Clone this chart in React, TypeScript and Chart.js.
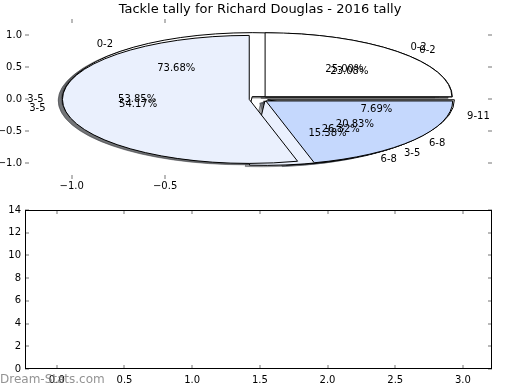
import React, { useEffect, useRef } from "react";
import { Chart, registerables } from "chart.js";

Chart.register(...registerables);

const chartTitle = "Tackle tally for Richard Douglas - 2016 tally";

// Pies (tackle counts per bucket), in draw order
const pie1Labels = ["0-2", "3-5", "6-8", "9-11"];
const pie1Counts = [3, 7, 2, 1];
const pie2Labels = ["0-2", "3-5"];
const pie2Counts = [14, 5];
const pie3Labels = ["0-2", "3-5", "6-8"];
const pie3Counts = [6, 13, 5];

const wedgeColors = ["#ffffff", "#eaf0fd", "#c5d8fd"];

const pieXTicks = [-1.0, -0.5];
const pieYTicks = [1.0, 0.5, 0.0, -0.5, -1.0];
const lowerXTicks = [0.0, 0.5, 1.0, 1.5, 2.0, 2.5, 3.0];
const lowerYTicks = [0, 2, 4, 6, 8, 10, 12, 14];

const watermark = "Dream-Stats.com";

const FONT = '"DejaVu Sans", "Liberation Sans", sans-serif';
const EXPLODE = 0.05;
const SHADOW_OFF = -0.0222;

const fmtDec = (v: number) => (v < 0 ? "\u2212" : "") + Math.abs(v).toFixed(1);

function hexToRgb(h: string) {
  const n = parseInt(h.slice(1), 16);
  return [(n >> 16) & 255, (n >> 8) & 255, n & 255];
}

const piePlugin = {
  id: "ellipsePies",
  afterDatasetsDraw(chart: any) {
    const { ctx, scales } = chart;
    const xs = scales.x;
    const ys = scales.y;
    const rx = Math.abs(xs.getPixelForValue(1) - xs.getPixelForValue(0));
    const ry = Math.abs(ys.getPixelForValue(0) - ys.getPixelForValue(1));
    const pies = [
      { labels: pie1Labels, counts: pie1Counts },
      { labels: pie2Labels, counts: pie2Counts },
      { labels: pie3Labels, counts: pie3Counts },
    ];
    const wedges: any[] = [];
    const texts: any[] = [];
    for (const p of pies) {
      const total = p.counts.reduce((a, b) => a + b, 0);
      let acc = 0;
      p.counts.forEach((c, i) => {
        const t1 = (acc / total) * Math.PI * 2;
        acc += c;
        const t2 = (acc / total) * Math.PI * 2;
        const tm = (t1 + t2) / 2;
        const cx = EXPLODE * Math.cos(tm);
        const cy = EXPLODE * Math.sin(tm);
        wedges.push({ cx, cy, t1, t2, color: wedgeColors[i % wedgeColors.length] });
        const lx = cx + 1.1 * Math.cos(tm);
        const ly = cy + 1.1 * Math.sin(tm);
        texts.push({ x: lx, y: ly, s: p.labels[i], align: lx > 0 ? "left" : "right" });
        const px = cx + 0.6 * Math.cos(tm);
        const py = cy + 0.6 * Math.sin(tm);
        texts.push({ x: px, y: py, s: ((c / total) * 100).toFixed(2) + "%", align: "center" });
      });
    }
    const path = (w: any, ox: number, oy: number) => {
      const X = xs.getPixelForValue(w.cx + ox);
      const Y = ys.getPixelForValue(w.cy + oy);
      ctx.beginPath();
      ctx.moveTo(X, Y);
      ctx.ellipse(X, Y, rx, ry, 0, -w.t1, -w.t2, true);
      ctx.closePath();
    };
    ctx.save();
    ctx.lineJoin = "miter";
    for (const w of wedges) {
      const [r, g, b] = hexToRgb(w.color);
      const col = `rgba(${Math.round(r * 0.3)},${Math.round(g * 0.3)},${Math.round(b * 0.3)},0.5)`;
      path(w, SHADOW_OFF, SHADOW_OFF);
      ctx.fillStyle = col;
      ctx.fill();
      ctx.strokeStyle = col;
      ctx.lineWidth = 1;
      ctx.stroke();
    }
    for (const w of wedges) {
      path(w, 0, 0);
      ctx.fillStyle = w.color;
      ctx.fill();
      ctx.strokeStyle = "#000000";
      ctx.lineWidth = 1;
      ctx.stroke();
    }
    ctx.fillStyle = "#000000";
    ctx.font = `10px ${FONT}`;
    ctx.textBaseline = "middle";
    for (const t of texts) {
      ctx.textAlign = t.align;
      ctx.fillText(t.s, xs.getPixelForValue(t.x), ys.getPixelForValue(t.y));
    }
    ctx.restore();
  },
};

const makeTickPlugin = (frame: boolean) => ({
  id: "inwardTicks",
  afterDraw(chart: any) {
    const { ctx, chartArea: a, scales } = chart;
    const xs = scales.x;
    const ys = scales.y;
    ctx.save();
    ctx.fillStyle = "#b9b9b9";
    for (const t of xs.ticks) {
      const px = Math.round(xs.getPixelForValue(t.value));
      ctx.fillRect(px - 1, a.bottom - 4, 2, 4);
      ctx.fillRect(px - 1, a.top, 2, 4);
    }
    for (const t of ys.ticks) {
      const py = Math.round(ys.getPixelForValue(t.value));
      ctx.fillRect(a.left, py - 1, 4, 2);
      ctx.fillRect(a.right - 4, py - 1, 4, 2);
    }
    if (frame) {
      ctx.strokeStyle = "#000000";
      ctx.lineWidth = 1;
      ctx.strokeRect(a.left + 0.5, a.top + 0.5, a.right - a.left - 1, a.bottom - a.top - 1);
    }
    ctx.restore();
  },
});

const watermarkPlugin = {
  id: "watermark",
  afterDraw(chart: any) {
    const { ctx } = chart;
    ctx.save();
    ctx.font = `12px ${FONT}`;
    ctx.fillStyle = "rgba(120,120,120,0.8)";
    ctx.textAlign = "left";
    ctx.textBaseline = "middle";
    ctx.fillText(watermark, 0, 180);
    ctx.restore();
  },
};

export default function App() {
  const topRef = useRef<HTMLCanvasElement>(null);
  const botRef = useRef<HTMLCanvasElement>(null);

  useEffect(() => {
    Chart.defaults.font.family = FONT;
    Chart.defaults.color = "#000000";
    const tickFont = { size: 10, family: FONT };

    const top = new Chart(topRef.current!, {
      type: "scatter",
      data: { datasets: [] },
      options: {
        animation: false,
        responsive: false,
        layout: { padding: 0 },
        plugins: {
          legend: { display: false },
          tooltip: { enabled: false },
          title: {
            display: true,
            text: chartTitle,
            color: "#000000",
            font: { size: 13, family: FONT, weight: "normal" },
            padding: { top: 2, bottom: 1.4 },
          },
        },
        scales: {
          x: {
            type: "linear",
            position: "bottom",
            min: -1.25,
            max: 1.25,
            grid: { display: false, drawTicks: false },
            border: { display: false },
            afterBuildTicks: (s: any) => {
              s.ticks = pieXTicks.map((v) => ({ value: v }));
            },
            afterFit: (s: any) => {
              s.height = 21;
            },
            ticks: { font: tickFont, padding: 1, maxRotation: 0, callback: (v: any) => fmtDec(Number(v)) },
          },
          y: {
            type: "linear",
            position: "left",
            min: -1.25,
            max: 1.25,
            grid: { display: false, drawTicks: false },
            border: { display: false },
            afterBuildTicks: (s: any) => {
              s.ticks = pieYTicks.map((v) => ({ value: v }));
            },
            afterFit: (s: any) => {
              s.width = 25;
            },
            ticks: { font: tickFont, padding: 3, callback: (v: any) => fmtDec(Number(v)) },
          },
          y2: {
            type: "linear",
            position: "right",
            min: -1.25,
            max: 1.25,
            grid: { display: false, drawTicks: false },
            border: { display: false },
            ticks: { display: false },
            afterFit: (s: any) => {
              s.width = 28;
            },
          },
        },
      },
      plugins: [piePlugin, makeTickPlugin(false)],
    } as any);

    const bot = new Chart(botRef.current!, {
      type: "scatter",
      data: { datasets: [] },
      options: {
        animation: false,
        responsive: false,
        layout: { padding: { top: 10, right: 28, left: 0, bottom: 0 } },
        plugins: { legend: { display: false }, tooltip: { enabled: false } },
        scales: {
          x: {
            type: "linear",
            position: "bottom",
            min: -0.235,
            max: 3.215,
            grid: { display: false, drawTicks: false },
            border: { display: false },
            afterBuildTicks: (s: any) => {
              s.ticks = lowerXTicks.map((v) => ({ value: v }));
            },
            afterFit: (s: any) => {
              s.height = 21;
            },
            ticks: { font: tickFont, padding: 5, maxRotation: 0, callback: (v: any) => fmtDec(Number(v)) },
          },
          y: {
            type: "linear",
            position: "left",
            min: 0,
            max: 14,
            grid: { display: false, drawTicks: false },
            border: { display: false },
            afterBuildTicks: (s: any) => {
              s.ticks = lowerYTicks.map((v) => ({ value: v }));
            },
            afterFit: (s: any) => {
              s.width = 25;
            },
            ticks: { font: tickFont, padding: 4, callback: (v: any) => String(v) },
          },
        },
      },
      plugins: [makeTickPlugin(true), watermarkPlugin],
    } as any);

    return () => {
      top.destroy();
      bot.destroy();
    };
  }, []);

  return (
    <div style={{ position: "absolute", left: 0, top: 0, width: 520, height: 390, background: "#ffffff" }}>
      <canvas ref={topRef} width={520} height={200} style={{ position: "absolute", left: 0, top: 0 }} />
      <canvas ref={botRef} width={520} height={190} style={{ position: "absolute", left: 0, top: 200 }} />
    </div>
  );
}
